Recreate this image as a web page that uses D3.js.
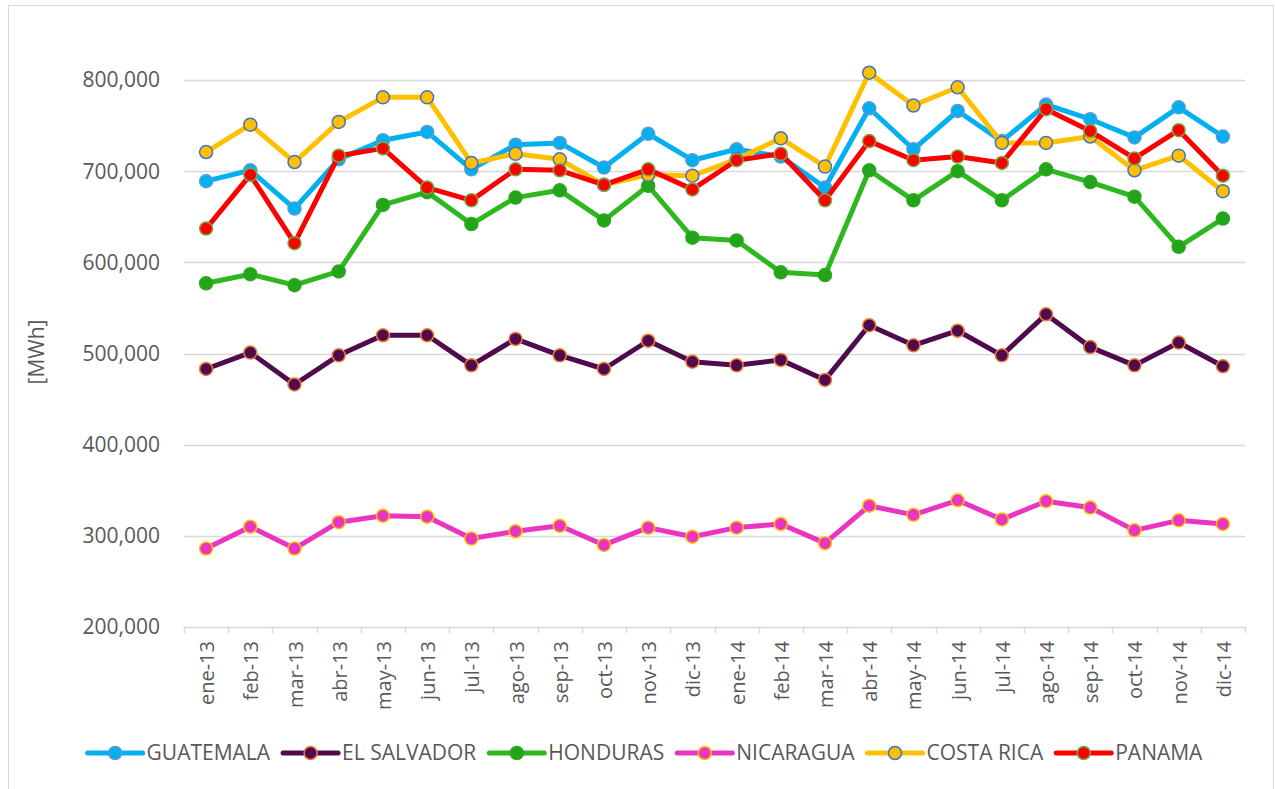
<!DOCTYPE html>
<head>
	<meta charset="utf-8" />
	<style>
		body {
			margin: 0;
			background: #fff;
			font-family: 'Open Sans', sans-serif;
		}
		svg text {
			fill: #595959;
		}
	</style>
</head>
<body>
	<svg id="chart" width="1275" height="789"></svg>
	<script src="https://cdnjs.cloudflare.com/ajax/libs/d3/7.8.5/d3.min.js"></script>
	<script>
		var months = ['ene-13', 'feb-13', 'mar-13', 'abr-13', 'may-13', 'jun-13', 'jul-13', 'ago-13', 'sep-13', 'oct-13', 'nov-13', 'dic-13',
			'ene-14', 'feb-14', 'mar-14', 'abr-14', 'may-14', 'jun-14', 'jul-14', 'ago-14', 'sep-14', 'oct-14', 'nov-14', 'dic-14'];

		var guatemala = [689000, 701000, 659000, 713000, 734000, 743000, 702000, 729000, 731000, 704000, 741000, 712000,
			724000, 716000, 682000, 769000, 724000, 766000, 733000, 773000, 757000, 737000, 770000, 738000];
		var elSalvador = [483000, 501000, 466000, 498000, 520000, 520000, 487000, 516000, 498000, 483000, 514000, 491000,
			487000, 493000, 471000, 531000, 509000, 525000, 498000, 543000, 507000, 487000, 512000, 486000];
		var honduras = [577000, 587000, 575000, 590000, 663000, 677000, 642000, 671000, 679000, 646000, 684000, 627000,
			624000, 589000, 586000, 701000, 668000, 700000, 668000, 702000, 688000, 672000, 617000, 648000];
		var nicaragua = [286000, 310000, 286000, 315000, 322000, 321000, 297000, 305000, 311000, 290000, 309000, 299000,
			309000, 313000, 292000, 333000, 323000, 339000, 318000, 338000, 331000, 306000, 317000, 313000];
		var costaRica = [721000, 751000, 710000, 754000, 781000, 781000, 709000, 719000, 713000, 685000, 696000, 695000,
			713000, 736000, 705000, 808000, 772000, 792000, 731000, 731000, 738000, 701000, 717000, 678000];
		var panama = [637000, 696000, 621000, 717000, 725000, 682000, 668000, 702000, 701000, 685000, 702000, 680000,
			712000, 719000, 668000, 733000, 712000, 716000, 709000, 768000, 744000, 714000, 745000, 695000];

		var yTicks = [200000, 300000, 400000, 500000, 600000, 700000, 800000];

		var series = [
			{ name: 'GUATEMALA', values: guatemala, line: '#00b0f0', fill: '#00b0f0', stroke: '#5b9bd5' },
			{ name: 'EL SALVADOR', values: elSalvador, line: '#500a4e', fill: '#500a4e', stroke: '#ed7d31' },
			{ name: 'HONDURAS', values: honduras, line: '#2db81f', fill: '#24a519', stroke: '#2aa81e' },
			{ name: 'NICARAGUA', values: nicaragua, line: '#e935c1', fill: '#e935c1', stroke: '#ffc000' },
			{ name: 'COSTA RICA', values: costaRica, line: '#ffc000', fill: '#ffc000', stroke: '#4472c4' },
			{ name: 'PANAMA', values: panama, line: '#ff0000', fill: '#ff0000', stroke: '#70ad47' },
		];

		var margin = { left: 184, right: 30, top: 80, bottom: 162 };
		var width = 1275 - margin.left - margin.right;
		var height = 789 - margin.top - margin.bottom;

		var svg = d3.select('#chart');

		// outer chart border
		svg.append('rect')
			.attr('x', 8.5).attr('y', 5.5)
			.attr('width', 1265).attr('height', 800)
			.attr('fill', 'none')
			.attr('stroke', '#d9d9d9');

		var g = svg.append('g').attr('transform', `translate(${margin.left},${margin.top})`);

		var x = d3.scaleBand().domain(months).range([0, width]);
		var y = d3.scaleLinear().domain([200000, 800000]).range([height, 0]);
		var cx = d => x(d) + x.bandwidth() / 2;

		// gridlines
		g.selectAll('.grid')
			.data(yTicks)
			.join('line')
			.attr('x1', 0).attr('x2', width)
			.attr('y1', d => Math.round(y(d)) + 0.5)
			.attr('y2', d => Math.round(y(d)) + 0.5)
			.attr('stroke', '#d9d9d9')
			.attr('stroke-width', 1.5);

		// y tick labels
		var fmt = d3.format(',');
		g.selectAll('.ylab')
			.data(yTicks)
			.join('text')
			.attr('x', -24)
			.attr('y', d => y(d))
			.attr('dy', '0.35em')
			.attr('text-anchor', 'end')
			.style('font-size', '21px')
			.text(d => fmt(d));

		// x axis ticks at band edges
		var edges = months.map(m => x(m)).concat([width]);
		g.selectAll('.xtick')
			.data(edges)
			.join('line')
			.attr('x1', d => Math.round(d) + 0.5).attr('x2', d => Math.round(d) + 0.5)
			.attr('y1', height).attr('y2', height + 6)
			.attr('stroke', '#d9d9d9')
			.attr('stroke-width', 1.5);

		g.selectAll('.xlab')
			.data(months)
			.join('text')
			.attr('transform', d => `translate(${cx(d) + 1},${height + 14}) rotate(-90)`)
			.attr('dy', '0.35em')
			.attr('text-anchor', 'end')
			.style('font-size', '20px')
			.text(d => d);

		// y axis title
		svg.append('text')
			.attr('transform', `translate(37,352) rotate(-90)`)
			.attr('text-anchor', 'middle')
			.attr('dy', '0.35em')
			.style('font-size', '21px')
			.text('[MWh]');

		var line = d3.line()
			.x((d, i) => cx(months[i]))
			.y(d => y(d));

		series.forEach(s => {
			var sg = g.append('g');
			sg.append('path')
				.attr('d', line(s.values))
				.attr('fill', 'none')
				.attr('stroke', s.line)
				.attr('stroke-width', 5)
				.attr('stroke-linejoin', 'round');
			sg.selectAll('circle')
				.data(s.values)
				.join('circle')
				.attr('cx', (d, i) => cx(months[i]))
				.attr('cy', d => y(d))
				.attr('r', 6.5)
				.attr('fill', s.fill)
				.attr('stroke', s.stroke)
				.attr('stroke-width', 1.5);
		});

		// legend
		var legend = svg.append('g').attr('transform', 'translate(0,753)');
		var items = legend.selectAll('g')
			.data(series)
			.join('g');
		items.append('line')
			.attr('x1', 0).attr('x2', 55)
			.attr('stroke', d => d.line)
			.attr('stroke-width', 5)
			.attr('stroke-linecap', 'round');
		items.append('circle')
			.attr('cx', 27.5)
			.attr('r', 6.5)
			.attr('fill', d => d.fill)
			.attr('stroke', d => d.stroke)
			.attr('stroke-width', 1.5);
		items.append('text')
			.attr('x', 59)
			.attr('dy', '0.35em')
			.style('font-size', '21px')
			.text(d => d.name);

		var pos = 0;
		var offsets = [];
		items.each(function () {
			offsets.push(pos);
			pos += 59 + this.querySelector('text').getComputedTextLength() + 13;
		});
		var startX = 645 - (pos - 13) / 2;
		items.attr('transform', (d, i) => `translate(${startX + offsets[i]},0)`);
	</script>
</body>
